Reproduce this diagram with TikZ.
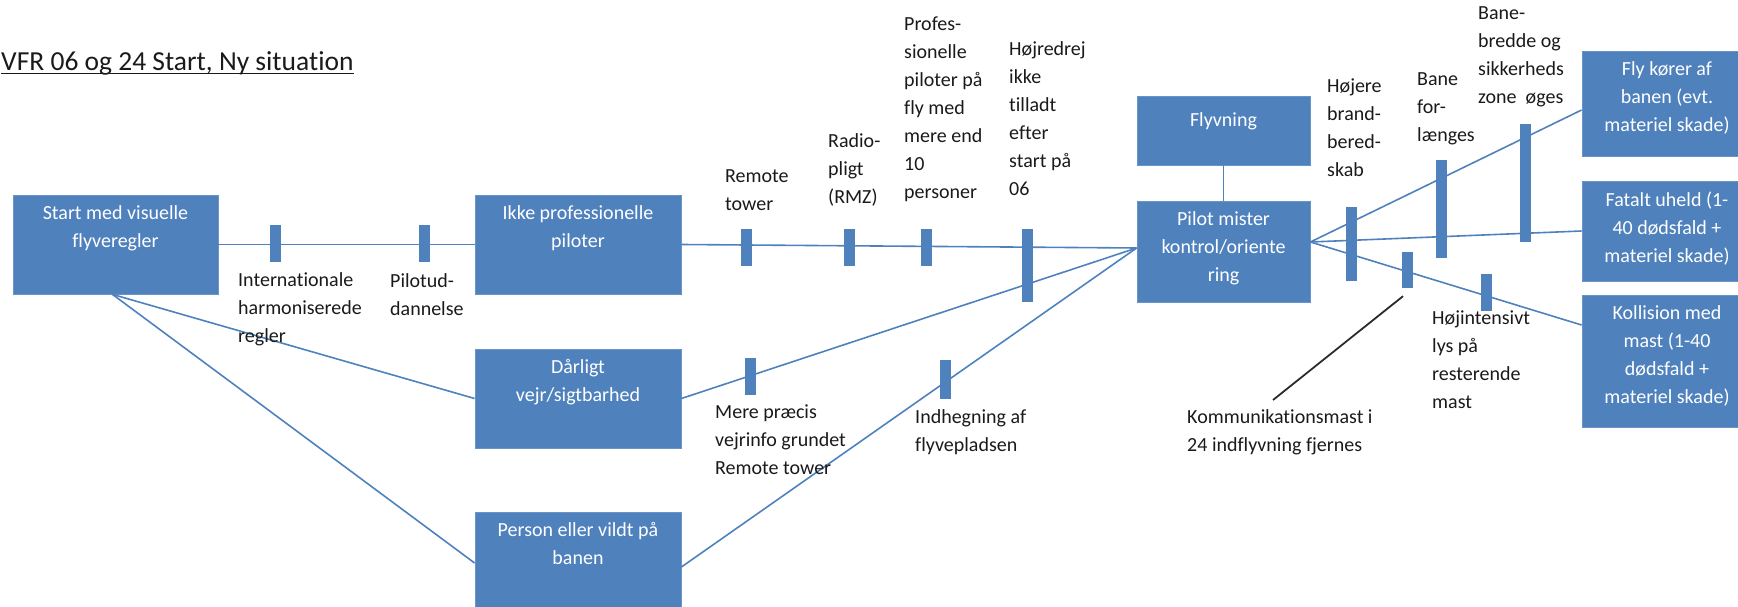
\documentclass[tikz,border=0pt]{standalone}
\usepackage{fontspec}
\setmainfont{Carlito}[Ligatures={NoCommon}]
\definecolor{accent}{HTML}{4F81BD}
\definecolor{ink}{HTML}{1A1A1A}
\definecolor{mastline}{HTML}{2B2B2B}
\begin{document}
\begin{tikzpicture}[x=1pt,y=-1pt,
  box/.style={rectangle, fill=accent, draw=accent!85!white, line width=0.8pt, inner sep=0pt},
  boxtext/.style={anchor=north, inner sep=0pt, align=center, text=white,
    font=\fontsize{20}{28}\selectfont, execute at begin node=\strut},
  lbl/.style={anchor=north west, inner sep=0pt, align=left, text=ink,
    font=\fontsize{20}{28}\selectfont, execute at begin node=\strut},
  bar/.style={rectangle, fill=accent, inner sep=0pt, minimum width=11pt},
  link/.style={draw=accent, line width=1.6pt},
]
\useasboundingbox (0,0) rectangle (1738,607);

% title
\node[anchor=base west, inner sep=0pt, text=ink, font=\fontsize{27.5}{33}\selectfont] (title) at (1,71) {VFR 06 og 24 Start, Ny situation};
\draw[ink, line width=1.3pt] ([yshift=-2.6pt]title.base west) -- ([yshift=-2.6pt]title.base east);

% boxes
\node[box, minimum width=205pt, minimum height=99pt]  (start)     at (115.5,244.5) {};
\node[box, minimum width=206pt, minimum height=99pt]  (ikke)      at (578,244.5) {};
\node[box, minimum width=206pt, minimum height=99pt]  (darligt)   at (578,398.5) {};
\node[box, minimum width=206pt, minimum height=102pt] (person)    at (578,563) {};
\node[box, minimum width=173pt, minimum height=69pt]  (flyvning)  at (1223.5,130.5) {};
\node[box, minimum width=173pt, minimum height=101pt] (pilot)     at (1223.5,251.5) {};
\node[box, minimum width=170pt, minimum height=105pt] (fly)       at (1667,103.5) {};
\node[box, minimum width=170pt, minimum height=100pt] (fatalt)    at (1667,231) {};
\node[box, minimum width=170pt, minimum height=132pt] (kollision) at (1667,361) {};

% box captions
\node[boxtext] (startT)  at ([yshift=-11pt]start.north) {Start med visuelle\\flyveregler};
\node[boxtext] (ikkeT)   at ([yshift=-11pt]ikke.north) {Ikke professionelle\\piloter};
\node[boxtext] (darT)    at ([yshift=-11pt]darligt.north) {Dårligt\\vejr/sigtbarhed};
\node[boxtext] (persT)   at ([yshift=-11pt]person.north) {Person eller vildt på\\banen};
\node[boxtext] (flyvT)   at ([yshift=-11pt]flyvning.north) {Flyvning};
\node[boxtext] (pilotT)  at ([yshift=-11pt]pilot.north) {Pilot mister\\kontrol/oriente\\ring};
\node[boxtext] (flyT)    at ([yshift=-11pt]fly.north) {Fly kører af\\banen (evt.\\materiel skade)};
\node[boxtext] (fatT)    at ([yshift=-11pt]fatalt.north) {Fatalt uheld (1-\\40 dødsfald +\\materiel skade)};
\node[boxtext] (kollT)   at ([yshift=-11pt]kollision.north) {Kollision med\\mast (1-40\\dødsfald +\\materiel skade)};

% connection points
\coordinate (sfoot) at ([xshift=-3pt]start.south);
\coordinate (pin)   at ([yshift=3.5pt]pilot.west);
\coordinate (pout)  at ([yshift=9.5pt]pilot.east);

% connectors
\draw[link] (start.east) -- (ikke.west);
\draw[link] (ikke.east) -- (pin);
\draw[link] (sfoot) -- (darligt.west);
\draw[link] (sfoot) -- (person.west);
\draw[link] (darligt.east) -- (pin);
\draw[link] ([yshift=-4pt]person.east) -- (pin);
\draw[link] (flyvning.south) -- (pilot.north);
\draw[link] (pout) -- ([yshift=-6.5pt]fly.west);
\draw[link] (pout) -- (fatalt.west);
\draw[link] (pout) -- ([yshift=36pt]kollision.west);

% barriers
\node[bar, minimum height=37pt]  (b1)  at (275,243.5) {};
\node[bar, minimum height=37pt]  (b2)  at (424,243.5) {};
\node[bar, minimum height=37pt]  (b3)  at (746.5,247.5) {};
\node[bar, minimum height=37pt]  (b4)  at (849,247.5) {};
\node[bar, minimum height=37pt]  (b5)  at (926.5,247.5) {};
\node[bar, minimum height=73pt]  (b6)  at (1027.5,265.5) {};
\node[bar, minimum height=37pt]  (b7)  at (750,376.5) {};
\node[bar, minimum height=39pt]  (b8)  at (945,379.5) {};
\node[bar, minimum height=74pt]  (b9)  at (1351.5,244) {};
\node[bar, minimum height=36pt]  (b10) at (1407.5,270) {};
\node[bar, minimum height=98pt]  (b11) at (1441.5,209) {};
\node[bar, minimum height=118pt] (b12) at (1525.5,183) {};
\node[bar, minimum height=37pt]  (b13) at (1486,292.5) {};

% barrier labels
\node[lbl] (l1)  at (238,272)  {Internationale\\harmoniserede\\regler};
\node[lbl] (l2)  at (390,273)  {Pilotud-\\dannelse};
\node[lbl] (l3)  at (725,169)  {Remote\\tower};
\node[lbl] (l4)  at (828,133)  {Radio-\\pligt\\(RMZ)};
\node[lbl] (l5)  at (904,17)   {Profes-\\sionelle\\piloter på\\fly med\\mere end\\10\\personer};
\node[lbl] (l6)  at (1009,41)  {Højredrej\\ikke\\tilladt\\efter\\start på\\06};
\node[lbl] (l7)  at (715,405)  {Mere præcis\\vejrinfo grundet\\Remote tower};
\node[lbl] (l8)  at (915,409)  {Indhegning af\\flyvepladsen};
\node[lbl] (l9)  at (1327,79)  {Højere\\brand-\\bered-\\skab};
\node[lbl] (l10) at (1417,72)  {Bane\\for-\\længes};
\node[lbl] (l11) at (1478,6)   {Bane-\\bredde og\\sikkerheds\\zone~~øges};
\node[lbl] (l12) at (1432,311) {Højintensivt\\lys på\\resterende\\mast};
\node[lbl] (l13) at (1187,409) {Kommunikationsmast i\\24 indflyvning fjernes};

% pointer from the mast barrier to its label
\coordinate (ktop) at ([shift={(-4.5,8)}]b10.south);
\coordinate (kend) at (1273,400);
\draw[mastline, line width=1.8pt] (ktop) -- (kend);
\end{tikzpicture}
\end{document}
